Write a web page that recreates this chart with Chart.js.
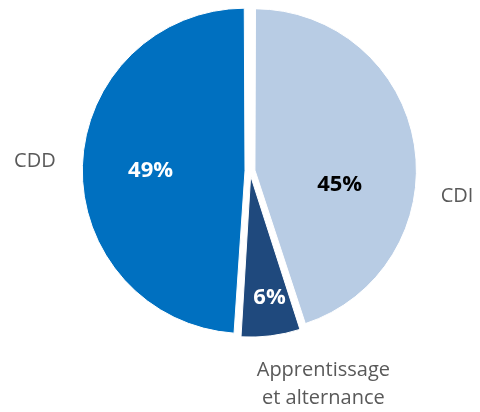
<!DOCTYPE html>
<html><head><meta charset="utf-8">
<script src="https://cdn.jsdelivr.net/npm/chart.js@4/dist/chart.umd.min.js"></script>
<style>html,body{margin:0;padding:0;background:#fff}#wrap{width:480px;height:412px}</style>
</head><body><div id="wrap"><canvas id="c" width="480" height="412"></canvas></div>
<script>
const categories = ['CDI', 'Apprentissage\net alternance', 'CDD'];
const values = [45, 6, 49];
const valueLabels = ['45%', '6%', '49%'];
const colors = ['#B8CCE4', '#1F497D', '#0070C0'];
const innerTextColors = ['#000000', '#FFFFFF', '#FFFFFF'];
// label placement in units of the radius (relative to chart center)
const innerPos = [[0.55, 0.085], [0.12, 0.775], [-0.61, 0.0]];
const outerPos = [[1.27, 0.153], [0.45, 1.31], [-1.32, -0.06]];

const labelPlugin = {
  id: 'labels',
  afterDatasetsDraw(chart) {
    const ctx = chart.ctx;
    const meta = chart.getDatasetMeta(0);
    const a0 = meta.data[0];
    const cx = (chart.chartArea.left + chart.chartArea.right) / 2;
    const cy = (chart.chartArea.top + chart.chartArea.bottom) / 2;
    const R = a0.outerRadius + 5;
    ctx.save();
    ctx.textAlign = 'center';
    ctx.textBaseline = 'middle';
    meta.data.forEach((arc, i) => {
      ctx.font = 'bold 22px "Open Sans"';
      ctx.fillStyle = innerTextColors[i];
      ctx.fillText(valueLabels[i], cx + innerPos[i][0] * R, cy + innerPos[i][1] * R);
      ctx.font = '20px "Open Sans"';
      ctx.fillStyle = '#595959';
      const lines = categories[i].split('\n');
      const lh = 28;
      const y0 = cy + outerPos[i][1] * R - (lines.length - 1) * lh / 2;
      lines.forEach((ln, k) => ctx.fillText(ln, cx + outerPos[i][0] * R, y0 + k * lh));
    });
    ctx.restore();
  }
};

new Chart(document.getElementById('c'), {
  type: 'pie',
  data: {
    labels: categories,
    datasets: [{
      data: values,
      backgroundColor: colors,
      borderColor: '#FFFFFF',
      borderWidth: 1,
      offset: 20,
      radius: 158
    }]
  },
  options: {
    responsive: false,
    animation: false,
    layout: { padding: { left: 20, right: 0, top: 0, bottom: 70 } },
    plugins: { legend: { display: false }, tooltip: { enabled: false } }
  },
  plugins: [labelPlugin]
});
</script></body></html>
